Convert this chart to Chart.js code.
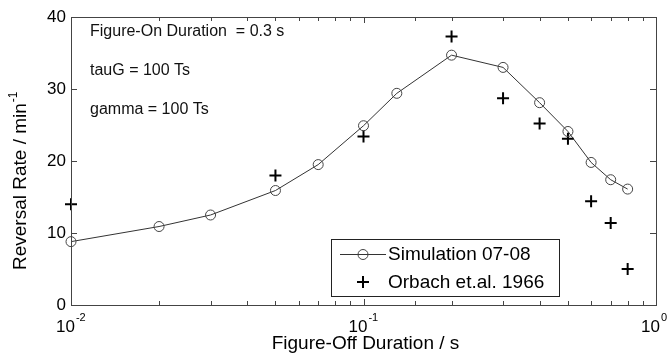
<!DOCTYPE html>
<html>
<head>
<meta charset="utf-8">
<script src="https://cdn.jsdelivr.net/npm/chart.js@4"></script>
<style>
  html, body { margin: 0; padding: 0; background: #fff; }
  #wrap { width: 671px; height: 363px; }
</style>
</head>
<body>
<div id="wrap"><canvas id="reversalChart" width="671" height="363"></canvas></div>
<script>
// ===== data =====
const simDurations = [0.01, 0.02, 0.03, 0.05, 0.07, 0.1, 0.13, 0.2, 0.3, 0.4, 0.5, 0.6, 0.7, 0.8];
const simRates     = [8.8, 10.9, 12.5, 15.9, 19.5, 24.9, 29.4, 34.7, 33.0, 28.1, 24.1, 19.8, 17.4, 16.1];

const orbachDurations = [0.01, 0.05, 0.1, 0.2, 0.3, 0.4, 0.5, 0.6, 0.7, 0.8];
const orbachRates     = [14.0, 18.0, 23.4, 37.3, 28.7, 25.2, 23.1, 14.4, 11.4, 5.0];

const yTicks = [0, 10, 20, 30, 40];
const notes = ['Figure-On Duration  = 0.3 s', 'tauG = 100 Ts', 'gamma = 100 Ts'];
const seriesNames = ['Simulation 07-08', 'Orbach et.al. 1966'];

const FONT = 'Arial, "Liberation Sans", Helvetica, sans-serif';
const FRAME = '#444';

const toPoints = (xs, ys) => xs.map((x, i) => ({ x, y: ys[i] }));

// frame, inward ticks, x tick labels with exponents, titles, notes, legend
const matlabAxes = {
    id: 'matlabAxes',
    afterDraw(chart) {
        const ctx = chart.ctx;
        const a = chart.chartArea;
        const xs = chart.scales.x;
        const ys = chart.scales.y;
        ctx.save();

        // ticks
        ctx.strokeStyle = FRAME;
        ctx.lineWidth = 1;
        ctx.beginPath();
        xs.ticks.forEach(t => {
            const px = Math.round(xs.getPixelForValue(t.value)) + 0.5;
            const major = Math.abs(Math.log10(t.value) - Math.round(Math.log10(t.value))) < 1e-6;
            const len = major ? 6 : 4;
            ctx.moveTo(px, a.bottom); ctx.lineTo(px, a.bottom - len);
            ctx.moveTo(px, a.top); ctx.lineTo(px, a.top + len);
        });
        yTicks.forEach(v => {
            const py = Math.round(ys.getPixelForValue(v)) + 0.5;
            ctx.moveTo(a.left, py); ctx.lineTo(a.left + 6, py);
            ctx.moveTo(a.right, py); ctx.lineTo(a.right - 6, py);
        });
        ctx.stroke();

        // frame
        ctx.strokeRect(Math.round(a.left) + 0.5, Math.round(a.top) + 0.5,
                       Math.round(a.right - a.left), Math.round(a.bottom - a.top));

        // x tick labels 10^n
        ctx.fillStyle = '#000';
        ctx.textBaseline = 'alphabetic';
        xs.ticks.forEach(t => {
            const e = Math.round(Math.log10(t.value));
            if (Math.abs(Math.log10(t.value) - e) > 1e-6) return;
            const px = xs.getPixelForValue(t.value);
            ctx.font = '17px ' + FONT;
            const wBase = ctx.measureText('10').width;
            const sup = e === 0 ? '0' : '-' + Math.abs(e);
            const x0 = px - 15;
            ctx.textAlign = 'left';
            ctx.fillText('10', x0, a.bottom + 27);
            ctx.font = '11px ' + FONT;
            ctx.fillText(sup, x0 + wBase + 1, a.bottom + 16);
        });

        // x title
        ctx.font = '19px ' + FONT;
        ctx.textAlign = 'center';
        ctx.fillText('Figure-Off Duration / s', (a.left + a.right) / 2 + 2, a.bottom + 44);

        // y title (rotated, min^-1)
        ctx.save();
        ctx.translate(26, 270);
        ctx.rotate(-Math.PI / 2);
        ctx.textAlign = 'left';
        ctx.font = '19px ' + FONT;
        const main = 'Reversal Rate / min';
        ctx.fillText(main, 0, 0);
        const wMain = ctx.measureText(main).width;
        ctx.font = '12px ' + FONT;
        ctx.fillText('-1', wMain + 1, -9);
        ctx.restore();

        // notes
        ctx.font = '16px ' + FONT;
        ctx.textAlign = 'left';
        ctx.textBaseline = 'middle';
        ctx.fillStyle = '#111';
        notes.forEach((n, i) => ctx.fillText(n, a.left + 19, a.top + 15 + i * 39));

        // legend box
        const lx = 331, ly = 239, lw = 228, lh = 57;
        ctx.fillStyle = '#fff';
        ctx.fillRect(lx, ly, lw, lh);
        ctx.strokeStyle = '#222';
        ctx.strokeRect(lx + 0.5, ly + 0.5, lw, lh);
        const rowY = [ly + 15, ly + 43];
        const sim = chart.data.datasets[0];
        const orb = chart.data.datasets[1];
        // row 1: line + circle
        ctx.strokeStyle = sim.borderColor;
        ctx.lineWidth = 1;
        ctx.beginPath();
        ctx.moveTo(lx + 9, rowY[0] + 0.5); ctx.lineTo(lx + 55, rowY[0] + 0.5);
        ctx.stroke();
        ctx.strokeStyle = sim.pointBorderColor;
        ctx.beginPath();
        ctx.arc(lx + 32, rowY[0] + 0.5, sim.pointRadius, 0, Math.PI * 2);
        ctx.stroke();
        // row 2: cross
        ctx.strokeStyle = orb.pointBorderColor;
        ctx.lineWidth = orb.pointBorderWidth;
        ctx.beginPath();
        ctx.moveTo(lx + 32 - 6, rowY[1]); ctx.lineTo(lx + 32 + 6, rowY[1]);
        ctx.moveTo(lx + 32, rowY[1] - 6); ctx.lineTo(lx + 32, rowY[1] + 6);
        ctx.stroke();
        ctx.fillStyle = '#000';
        ctx.font = '19px ' + FONT;
        ctx.textBaseline = 'middle';
        seriesNames.forEach((s, i) => ctx.fillText(s, lx + 57, rowY[i] + 1));

        ctx.restore();
    }
};

new Chart(document.getElementById('reversalChart'), {
    type: 'scatter',
    data: {
        datasets: [{
            label: seriesNames[0],
            data: toPoints(simDurations, simRates),
            showLine: true,
            tension: 0,
            borderColor: '#333',
            borderWidth: 1,
            pointStyle: 'circle',
            pointRadius: 5,
            pointBorderWidth: 1,
            pointBorderColor: '#444',
            pointBackgroundColor: 'rgba(0,0,0,0)',
            clip: false
        }, {
            label: seriesNames[1],
            data: toPoints(orbachDurations, orbachRates),
            showLine: false,
            pointStyle: 'cross',
            pointRadius: 6,
            pointBorderWidth: 2,
            pointBorderColor: '#000',
            clip: false
        }]
    },
    options: {
        responsive: false,
        animation: false,
        layout: { padding: { top: 17, right: 15, left: 0, bottom: 0 } },
        plugins: {
            legend: { display: false },
            tooltip: { enabled: false }
        },
        scales: {
            x: {
                type: 'logarithmic',
                min: 0.01,
                max: 1,
                grid: { display: false },
                border: { display: false },
                ticks: { display: false, autoSkip: false },
                afterFit: s => { s.height = 58; }
            },
            y: {
                min: 0,
                max: 40,
                grid: { display: false, drawTicks: false },
                border: { display: false },
                afterBuildTicks: s => { s.ticks = yTicks.map(v => ({ value: v })); },
                ticks: {
                    color: '#000',
                    padding: 5,
                    font: { family: FONT, size: 17 }
                },
                afterFit: s => { s.width = 71; }
            }
        }
    },
    plugins: [matlabAxes]
});
</script>
</body>
</html>
